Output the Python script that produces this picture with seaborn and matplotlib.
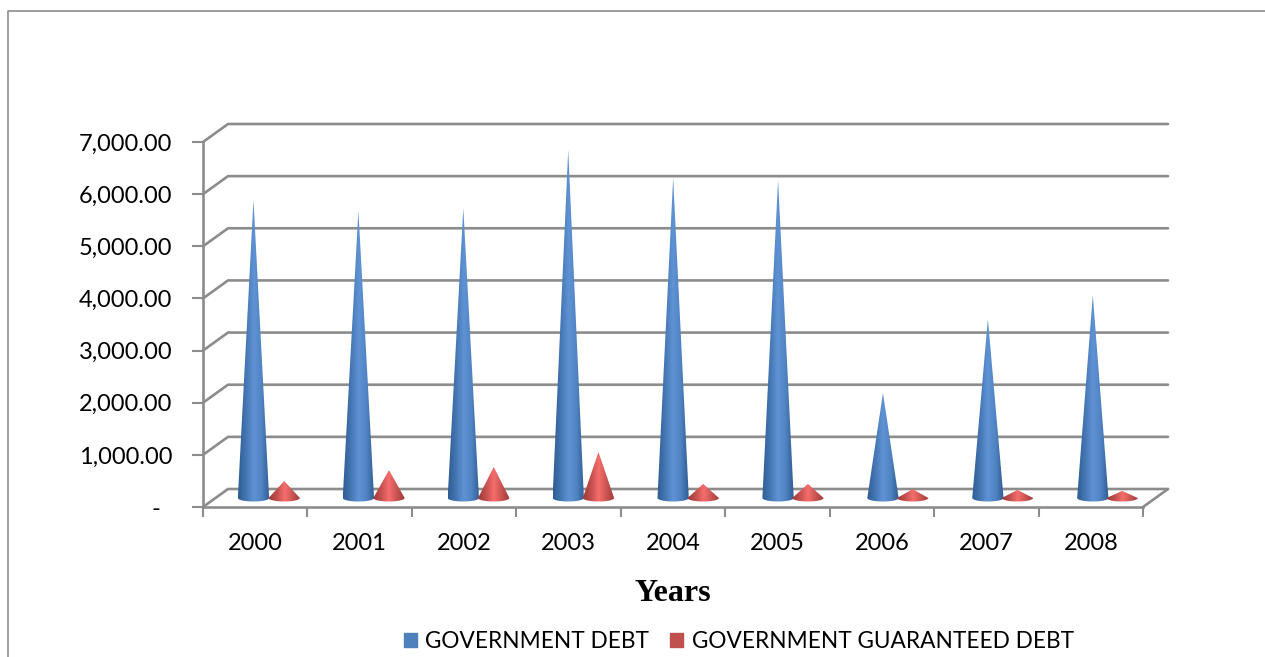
# Government debt chart, Excel style 3D cones
import numpy as np
import pandas as pd
import matplotlib
matplotlib.use('Agg')
import matplotlib.pyplot as plt
from matplotlib.colors import LinearSegmentedColormap, to_hex
from matplotlib.lines import Line2D
from matplotlib.patches import PathPatch, Patch
from matplotlib.path import Path
import seaborn as sns

years = ['2000', '2001', '2002', '2003', '2004', '2005', '2006', '2007', '2008']
gov_debt = [5715, 5505, 5560, 6675, 6140, 6100, 2015, 3435, 3895]
guaranteed_debt = [325, 535, 595, 880, 270, 270, 170, 155, 135]
series_names = ['GOVERNMENT DEBT', 'GOVERNMENT GUARANTEED DEBT']
series_colors = ['#4F81BD', '#C0504D']
y_ticks = [0, 1000, 2000, 3000, 4000, 5000, 6000, 7000]

W, H = 1265, 657
GRID = '#8c8c8c'

sns.set_style('white')
plt.rcParams['font.family'] = ['Lato', 'DejaVu Sans']

df = pd.DataFrame({
    'year': years * 2,
    'value': gov_debt + guaranteed_debt,
    'series': [series_names[0]] * len(years) + [series_names[1]] * len(years),
})

fig = plt.figure(figsize=(W / 100, H / 100), dpi=100)
# front plane of the plot in pixels: x 203-1143, y 142-507
ax = fig.add_axes([203 / W, 1 - 507 / H, 940 / W, 365 / H])

sns.barplot(data=df, x='year', y='value', hue='series', palette=series_colors,
            width=0.6, gap=0, saturation=1, ax=ax)
ax.set_xlim(-0.5, 8.5)
ax.set_ylim(0, 7000)

px_x = 9 / 940
px_y = 7000 / 365

# back wall and floor
dx, dy = 25 * px_x, 18 * px_y
for v in y_ticks:
    ax.plot([-0.5, -0.5 + dx, 8.5 + dx], [v, v + dy, v + dy], color=GRID, lw=1.9,
            clip_on=False, zorder=1, solid_joinstyle='miter')
ax.plot([8.5, 8.5 + dx], [0, dy], color=GRID, lw=1.9, clip_on=False, zorder=1)

# turn each bar into a shaded cone
cmaps = {
    '#4F81BD': LinearSegmentedColormap.from_list('b', ['#2f5c92', '#4577b4', '#6093d4', '#5083c2', '#2f5c92']),
    '#C0504D': LinearSegmentedColormap.from_list('r', ['#9e3a38', '#c4504e', '#f56e6c', '#c85452', '#9e3a38']),
}
# cones spread a little wider than the ticks, small perspective in the original
shift = {'#4F81BD': (14, 0.47), '#C0504D': (13.3, 0.3)}
shade = np.linspace(0, 1, 64).reshape(1, -1)
base_off_y = 9 * px_y
semi_minor = 3.5 * px_y
for bar in list(ax.patches):
    bar.set_visible(False)
    if bar.get_height() == 0:
        continue
    w = bar.get_width()
    color = to_hex(bar.get_facecolor()).upper()
    left = bar.get_x() + (shift[color][0] + shift[color][1] * (bar.get_x() + w / 2)) * px_x
    top = base_off_y + bar.get_height()
    t = np.linspace(np.pi, 2 * np.pi, 24)
    arc_x = left + w / 2 + w / 2 * np.cos(t)
    arc_y = base_off_y + semi_minor * np.sin(t)
    verts = [(left + w / 2, top)] + list(zip(arc_x, arc_y)) + [(left + w / 2, top)]
    codes = [Path.MOVETO] + [Path.LINETO] * (len(verts) - 2) + [Path.CLOSEPOLY]
    clip = PathPatch(Path(verts, codes), transform=ax.transData, fc='none', ec='none')
    ax.add_patch(clip)
    im = ax.imshow(shade, extent=[left, left + w, 0, top], aspect='auto', cmap=cmaps[color],
                   zorder=3, interpolation='bilinear')
    im.set_clip_path(clip)
ax.set_xlim(-0.5, 8.5)
ax.set_ylim(0, 7000)

# axes
sns.despine(ax=ax, top=True, right=True)
for side in ['left', 'bottom']:
    ax.spines[side].set_color(GRID)
    ax.spines[side].set_linewidth(1.9)
ax.set_xticks(np.arange(-0.5, 9, 1), minor=False)
ax.set_xticklabels([])
ax.set_xticks(np.arange(len(years)), labels=years, minor=True)
ax.tick_params(axis='x', which='major', length=7, width=1.5, color=GRID, bottom=True)
ax.tick_params(axis='x', which='minor', length=0, pad=19, labelsize=17, labelcolor='black', bottom=False)
ax.set_yticks(y_ticks, labels=['-  '] + [f'{v:,.2f}' for v in y_ticks[1:]])
ax.tick_params(axis='y', length=8, width=1.5, color=GRID, pad=14, labelsize=17, labelcolor='black', left=True)

ax.set_xlabel('Years', family='Liberation Serif', fontweight='bold', fontsize=23, labelpad=18, color='black')
ax.set_ylabel('')

ax.get_legend().remove()
handles = [Patch(color=c) for c in series_colors]
fig.legend(handles, series_names, loc='center', bbox_to_anchor=(739 / W, 1 - 641 / H), ncol=2, frameon=False,
           fontsize=16.3, handlelength=0.575, handleheight=0.575, handletextpad=0.36, columnspacing=0.93,
           borderpad=0, labelcolor='black')

# chart area border, runs off the crop on the right and bottom
fig.add_artist(Line2D([8 / W, 8 / W, 1], [0, 1 - 11 / H, 1 - 11 / H], color=GRID, lw=1.2))

fig.savefig('out.png', dpi=100)
